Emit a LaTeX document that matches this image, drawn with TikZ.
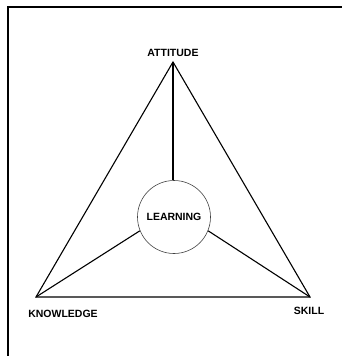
\documentclass[tikz,border=0pt]{standalone}
\usepackage{fontspec}
\setmainfont{Liberation Sans}
\begin{document}
\begin{tikzpicture}[x=1pt,y=-1pt,
  lbl/.style={font=\fontsize{10.5}{12}\selectfont\bfseries, inner sep=0pt},
  edge/.style={line width=1.1pt, line join=miter},
  hub/.style={circle, draw=black!75, line width=0.6pt, minimum size=73pt,
              inner sep=0pt, font=\fontsize{10.5}{12}\selectfont\bfseries}]
  \useasboundingbox (0,0) rectangle (342,356);
  % frame: top and left edges
  \draw[line width=1.6pt] (8,356) -- (8,7) -- (342,7);

  % corners of the triangle
  \coordinate (att) at (173,62);
  \coordinate (kno) at (36,297);
  \coordinate (ski) at (310,297);

  % centre circle
  \node[hub] (learn) at (174,217) {LEARNING};

  % labels
  \node[lbl] (attl) at (173,52.5) {ATTITUDE};
  \node[lbl] (knol) at (63,314) {KNOWLEDGE};
  \node[lbl] (skil) at (309,311) {SKILL};

  % triangle
  \draw[edge] (att) -- (kno) -- (ski) -- cycle;

  % spokes to the circle
  \draw[edge] (att) -- (att |- learn.north);
  \draw[edge] (kno) -- (learn.202);
  \draw[edge] (ski) -- (learn.338);
\end{tikzpicture}
\end{document}
